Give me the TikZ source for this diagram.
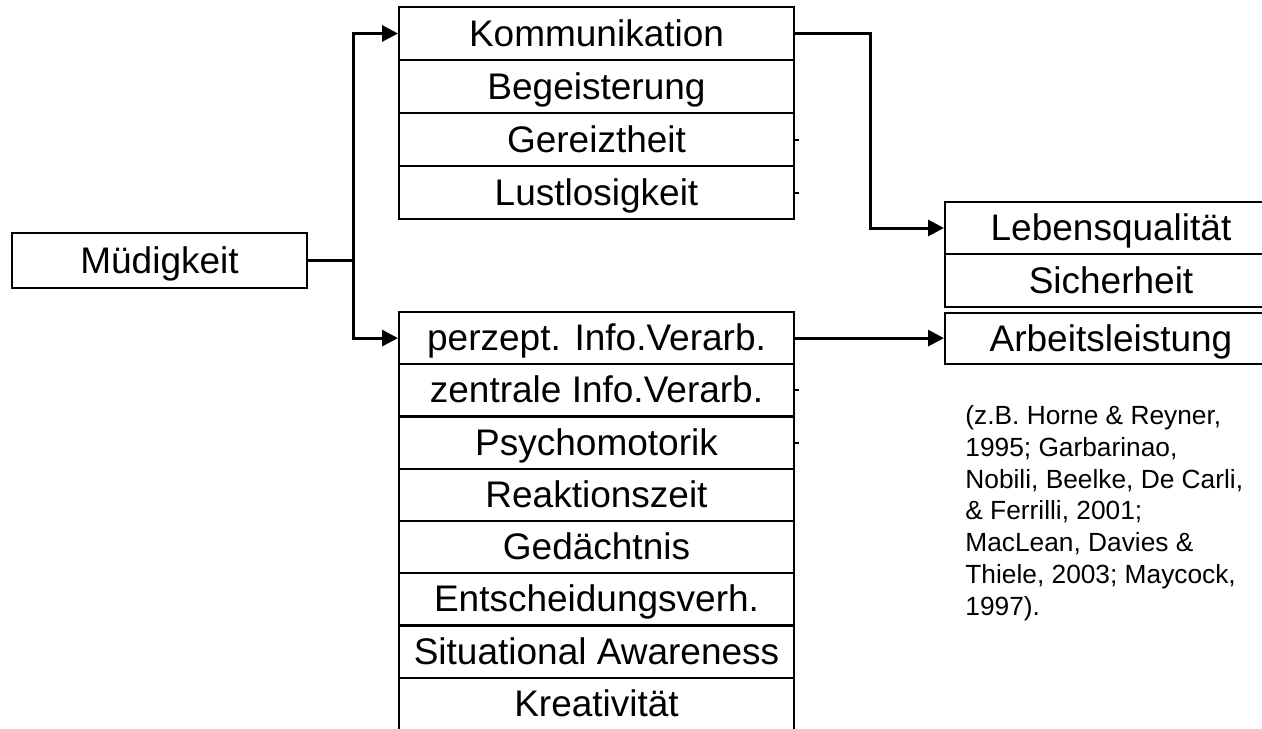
\documentclass[tikz,border=0pt]{standalone}
\usepackage{fontspec}
\setmainfont{Liberation Sans}
\usetikzlibrary{arrows.meta}
\begin{document}
\begin{tikzpicture}[x=0.5pt,y=-0.5pt,
  box/.style={draw, line width=1pt, inner sep=0pt,
    font=\fontsize{18.5}{22}\selectfont, text height=14pt, text depth=1.5pt},
  midrow/.style={box, minimum width=197.5pt},
  toprow/.style={midrow, minimum height=26.5pt},
  botrow/.style={midrow, minimum height=26.125pt},
  outrow/.style={box, minimum width=166pt},
  conn/.style={line width=1.5pt},
  arr/.style={conn, -{Triangle[length=8pt,width=8pt]}},
  stub/.style={line width=1pt},
  cite/.style={font=\fontsize{13.15}{15.85}\selectfont, align=left, inner sep=0pt}
]
\clip (0,0) rectangle (1262,728);

% source
\node[box, minimum width=147.5pt, minimum height=27.5pt] (mued) at (159.5,260.5) {Müdigkeit};

% emotional / social effects
\node[toprow] (komm)  at (596.5,33.5)  {Kommunikation};
\node[toprow] (begei) at (596.5,86.5)  {Begeisterung};
\node[toprow] (gerei) at (596.5,139.5) {Gereiztheit};
\node[toprow] (lust)  at (596.5,192.5) {Lustlosigkeit};

% cognitive / performance effects
\node[botrow] (perz)  at (596.5,338.1) {perzept. Info.Verarb.};
\node[botrow] (zent)  at (596.5,390.4) {zentrale Info.Verarb.};
\node[botrow] (psych) at (596.5,442.6) {Psychomotorik};
\node[botrow] (reakt) at (596.5,494.9) {Reaktionszeit};
\node[botrow] (gedae) at (596.5,547.1) {Gedächtnis};
\node[botrow] (ents)  at (596.5,599.4) {Entscheidungsverh.};
\node[botrow] (situ)  at (596.5,651.6) {Situational Awareness};
\node[botrow] (krea)  at (596.5,703.9) {Kreativität};

% outcomes
\node[outrow, minimum height=26pt]   (leben) at (1111,228)   {Lebensqualität};
\node[outrow, minimum height=26.5pt] (sich)  at (1111,280.5) {Sicherheit};
\node[outrow, minimum height=25.5pt] (arb)   at (1111,338.5) {Arbeitsleistung};

% citation (base anchor sits on the last line)
\node[cite, anchor=base west] (lit) at (965,615)
  {(z.B. Horne \& Reyner,\\1995; Garbarinao,\\Nobili, Beelke, De Carli,\\\& Ferrilli, 2001;\\MacLean, Davies \&\\Thiele, 2003; Maycock,\\1997).};

% branching from the source
\coordinate (split) at (353,260.5);
\draw[conn] (mued.east) -- (split);
\draw[arr] (split) |- (komm.west);
\draw[arr] (split) |- (perz.west);

% links to outcomes
\draw[arr] (komm.east) -- ++(75,0) |- (leben.west);
\draw[arr] (perz.east) -- (perz.east -| arb.west);

% short stubs on the right edge
\foreach \n in {gerei,lust,zent,psych}
  \draw[stub] (\n.east) -- ++(4,0);
\end{tikzpicture}
\end{document}
